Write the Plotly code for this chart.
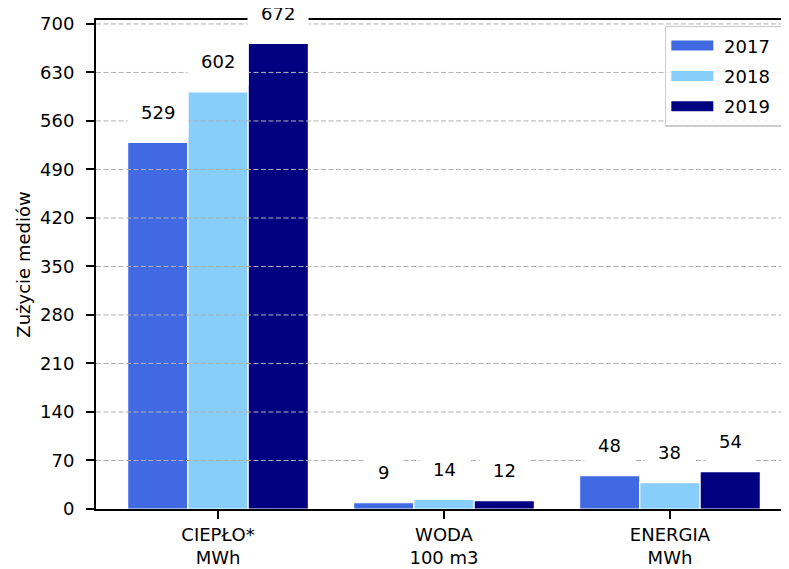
import plotly.graph_objects as go

categories = ["CIEPŁO*<br>MWh", "WODA<br>100 m3", "ENERGIA<br>MWh"]
years = ["2017", "2018", "2019"]
values_2017 = [529, 9, 48]
values_2018 = [602, 14, 38]
values_2019 = [672, 12, 54]
y_ticks = [0, 70, 140, 210, 280, 350, 420, 490, 560, 630, 700]
colors = ["#4169E1", "#87CEFA", "#000080"]

series = [values_2017, values_2018, values_2019]
FONT = "DejaVu Sans"
FS = 18
n_cat = len(categories)
group_w = 0.8
bar_w = group_w / len(series)

fig = go.Figure()
for i, (yr, vals) in enumerate(zip(years, series)):
    off = (i - (len(series) - 1) / 2) * bar_w
    fig.add_trace(go.Bar(
        name=yr,
        x=[k + off for k in range(n_cat)],
        y=vals,
        width=bar_w,
        marker=dict(color=colors[i], line=dict(color="white", width=1.2)),
        showlegend=False,
    ))
    # legend entry with a wide swatch; leading/trailing no-break spaces pad the text
    fig.add_trace(go.Scatter(
        name="\u00a0" + yr + "\u00a0\u00a0", x=[None], y=[None], mode="lines",
        line=dict(color=colors[i], width=14),
        legendgroup=yr, showlegend=True,
    ))
    for k, v in enumerate(vals):
        fig.add_annotation(
            x=k + off, y=v, yshift=30, text=str(v), showarrow=False,
            font=dict(family=FONT, size=FS, color="black"),
            bgcolor="white", borderpad=13, yanchor="middle",
        )

# grid lines drawn above the bars, as in the reference
for t in y_ticks[1:]:
    fig.add_shape(type="line", xref="paper", x0=0, x1=1, yref="y", y0=t, y1=t,
                  line=dict(color="#b0b0b0", width=1, dash="5px,2.5px"), layer="above")

fig.update_layout(
    width=789, height=569,
    margin=dict(l=88, r=5, t=7, b=68),
    paper_bgcolor="white", plot_bgcolor="white",
    barmode="overlay",
    showlegend=True,
    legend=dict(
        x=0.994, y=0.988, xanchor="right", yanchor="top",
        bgcolor="rgba(255,255,255,0.85)", bordercolor="#cccccc", borderwidth=1.5,
        font=dict(family=FONT, size=FS, color="black"),
        tracegroupgap=4, itemwidth=42,
    ),
    font=dict(family=FONT, color="black"),
)
fig.update_xaxes(
    range=[-0.54, 2.54],
    tickmode="array", tickvals=list(range(n_cat)), ticktext=categories,
    showgrid=False, zeroline=False,
    showline=True, linecolor="black", linewidth=2, mirror=True,
    ticks="outside", ticklen=8, tickwidth=1.5, tickcolor="black",
    tickfont=dict(family=FONT, size=FS, color="black"),
)
fig.update_yaxes(
    range=[0, 705.7],
    tickmode="array", tickvals=y_ticks,
    showgrid=False, zeroline=False,
    showline=True, linecolor="black", linewidth=2,
    ticks="outside", ticklen=8, tickwidth=1.5, tickcolor="black",
    ticklabelstandoff=8,
    tickfont=dict(family=FONT, size=FS, color="black"),
    title=dict(text="Zużycie mediów", font=dict(family=FONT, size=FS, color="black"), standoff=5),
)

fig.write_html("out.html")
